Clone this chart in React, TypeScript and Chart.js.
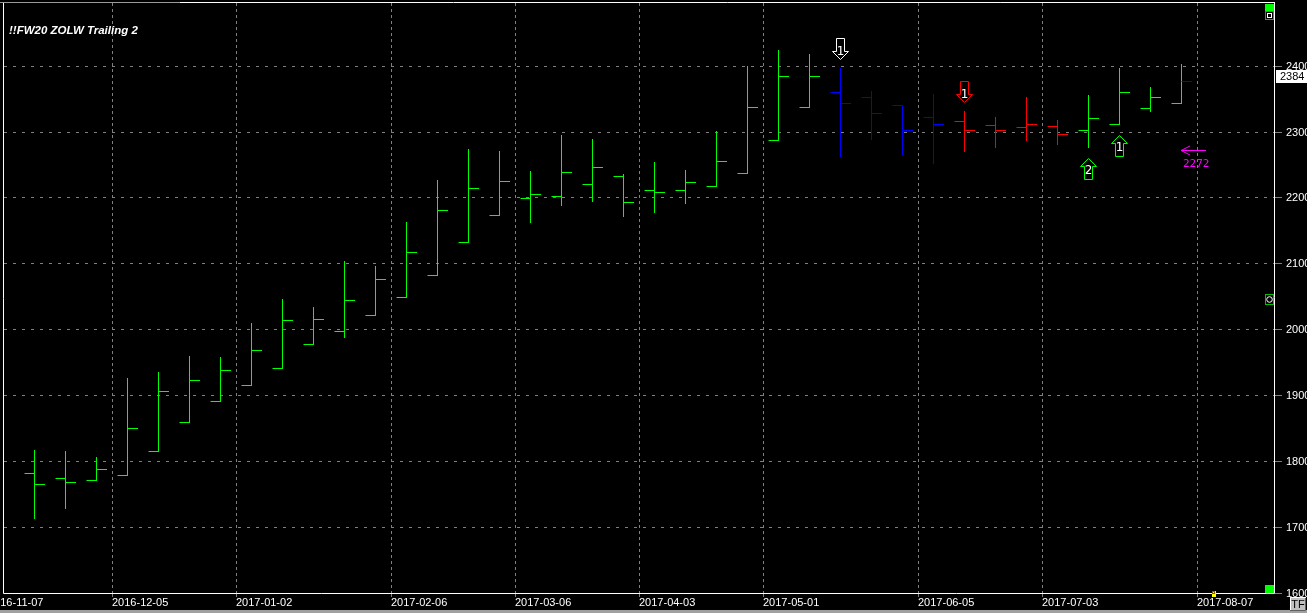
import React, { useEffect, useRef } from 'react';
import { Chart, registerables } from 'chart.js';

Chart.register(...registerables);

// ---------------- data ----------------
const TITLE = '!!FW20 ZOLW Trailing 2';

const opens = [1782, 1774, 1771, 1779, 1815, 1860, 1891, 1915, 1942, 1977, 1997, 2021, 2049, 2083, 2132, 2174, 2199, 2202, 2220, 2232, 2212, 2211, 2217, 2237, 2287, 2337, 2360, 2352, 2340, 2322, 2316, 2310, 2307, 2308, 2302, 2311, 2335, 2343];
const highs = [1817, 1815, 1806, 1926, 1935, 1960, 1958, 2010, 2046, 2034, 2104, 2096, 2163, 2227, 2274, 2271, 2240, 2295, 2289, 2236, 2254, 2242, 2301, 2400, 2424, 2418, 2396, 2362, 2340, 2357, 2331, 2322, 2352, 2317, 2355, 2396, 2367, 2402];
const lows = [1714, 1729, 1771, 1779, 1815, 1860, 1891, 1915, 1942, 1977, 1989, 2021, 2049, 2083, 2132, 2174, 2163, 2189, 2195, 2172, 2178, 2192, 2217, 2237, 2287, 2337, 2263, 2289, 2266, 2253, 2270, 2276, 2287, 2281, 2277, 2311, 2331, 2343];
const closes = [1766, 1768, 1788, 1850, 1906, 1923, 1939, 1968, 2014, 2015, 2044, 2076, 2118, 2181, 2215, 2225, 2205, 2238, 2246, 2193, 2209, 2223, 2255, 2337, 2385, 2384, 2343, 2328, 2303, 2311, 2303, 2302, 2311, 2296, 2320, 2360, 2352, 2377];
// trailing-stop state of each bar: U = long, D = short, R = reversal
const trend = ['U', 'U', 'U', 'U', 'U', 'U', 'U', 'U', 'U', 'U', 'U', 'U', 'U', 'U', 'U', 'U', 'U', 'U', 'U', 'U', 'U', 'U', 'U', 'U', 'U', 'U', 'D', 'D', 'D', 'D', 'R', 'R', 'R', 'R', 'U', 'U', 'U', 'U'];

const xTickLabels = ['2016-11-07', '2016-12-05', '2017-01-02', '2017-02-06', '2017-03-06', '2017-04-03', '2017-05-01', '2017-06-05', '2017-07-03', '2017-08-07'];
const xTickBars = [-1, 3, 7, 12, 16, 20, 24, 29, 33, 38];
const yTicks = [1600, 1700, 1800, 1900, 2000, 2100, 2200, 2300, 2400];

const lastPrice = 2384;
const trailingStop = 2272;

const signalBars = [26, 30, 34, 35];
const signalDirs = ['down', 'down', 'up', 'up'];
const signalLabels = ['1', '1', '2', '1'];

// ---------------- styles ----------------
const trendColors: Record<string, string> = { U: '#00ff00', D: '#0000ff', R: '#ff0000' };
const signalColors = ['#ffffff', '#ff0000', '#00ff00', '#00ff00'];
const GRID = '#808080';
const TEXT = '#ffffff';
const LABEL_FONT = '11px "Liberation Sans", Arial, sans-serif';

const W = 1307;
const H = 613;

function crisp(v: number) {
  return Math.round(v) + 0.5;
}

const painter = {
  id: 'ohlcPainter',
  beforeDraw(chart: any) {
    const ctx = chart.ctx;
    ctx.save();
    ctx.fillStyle = '#000000';
    ctx.fillRect(0, 0, W, H);
    ctx.restore();
  },
  afterDraw(chart: any) {
    const ctx: CanvasRenderingContext2D = chart.ctx;
    const xs = chart.scales.x;
    const ys = chart.scales.y;
    const area = chart.chartArea;
    const L = Math.round(area.left);
    const R = Math.round(area.right);
    const T = Math.round(area.top);
    const B = Math.round(area.bottom);

    ctx.save();
    ctx.lineWidth = 1;

    // horizontal grid + right ticks
    yTicks.forEach((v) => {
      const y = crisp(ys.getPixelForValue(v));
      if (v !== yTicks[0]) {
        ctx.strokeStyle = GRID;
        ctx.setLineDash([3, 6]);
        ctx.beginPath();
        ctx.moveTo(L + 1, y);
        ctx.lineTo(R, y);
        ctx.stroke();
      }
      ctx.setLineDash([]);
      ctx.strokeStyle = GRID;
      ctx.beginPath();
      ctx.moveTo(R + 1, y);
      ctx.lineTo(R + 8, y);
      ctx.stroke();
    });

    // vertical grid
    xTickBars.forEach((b) => {
      const px = xs.getPixelForValue(b - 0.5);
      if (px <= area.left || px >= area.right) return;
      const x = crisp(px);
      ctx.strokeStyle = GRID;
      ctx.setLineDash([3, 3]);
      ctx.beginPath();
      ctx.moveTo(x, T);
      ctx.lineTo(x, B);
      ctx.stroke();
      ctx.setLineDash([]);
      ctx.beginPath();
      ctx.moveTo(x, B);
      ctx.lineTo(x, B + 4);
      ctx.stroke();
    });
    ctx.setLineDash([]);

    // frame
    ctx.strokeStyle = '#9a9a9a';
    ctx.beginPath();
    ctx.moveTo(0, 2.5);
    ctx.lineTo(180, 2.5);
    ctx.stroke();
    ctx.strokeStyle = '#ffffff';
    ctx.beginPath();
    ctx.moveTo(180, 2.5);
    ctx.lineTo(R + 0.5, 2.5);
    ctx.moveTo(L + 0.5, T);
    ctx.lineTo(L + 0.5, B + 0.5);
    ctx.lineTo(R + 0.5, B + 0.5);
    ctx.lineTo(R + 0.5, 2);
    ctx.stroke();

    // OHLC bars
    const tick = 10;
    for (let i = 0; i < opens.length; i++) {
      const color = trendColors[trend[i]];
      const x = crisp(xs.getPixelForValue(i));
      const yh = Math.round(ys.getPixelForValue(highs[i]));
      const yl = Math.round(ys.getPixelForValue(lows[i]));
      const yo = crisp(ys.getPixelForValue(opens[i]));
      const yc = crisp(ys.getPixelForValue(closes[i]));
      ctx.strokeStyle = color;
      ctx.beginPath();
      ctx.moveTo(x, yh);
      ctx.lineTo(x, yl + 1);
      ctx.moveTo(x - tick, yo);
      ctx.lineTo(x, yo);
      ctx.stroke();
      ctx.strokeStyle = i === opens.length - 1 ? trendColors.D : color;
      ctx.beginPath();
      ctx.moveTo(x, yc);
      ctx.lineTo(x + tick + 0.5, yc);
      ctx.stroke();
    }

    // signal arrows
    signalBars.forEach((b, k) => {
      const dir = signalDirs[k];
      const cx = crisp(xs.getPixelForValue(b));
      const s = dir === 'down' ? -1 : 1;
      const anchor = dir === 'down' ? ys.getPixelForValue(highs[b]) - 9 : ys.getPixelForValue(lows[b]) + 11;
      const tipY = crisp(anchor);
      const sw = 4, hw = 8, hh = 8, sh = 13;
      ctx.beginPath();
      ctx.moveTo(cx, tipY);
      ctx.lineTo(cx + hw, tipY + s * hh);
      ctx.lineTo(cx + sw, tipY + s * hh);
      ctx.lineTo(cx + sw, tipY + s * (hh + sh));
      ctx.lineTo(cx - sw, tipY + s * (hh + sh));
      ctx.lineTo(cx - sw, tipY + s * hh);
      ctx.lineTo(cx - hw, tipY + s * hh);
      ctx.closePath();
      ctx.fillStyle = '#000000';
      ctx.fill();
      ctx.strokeStyle = signalColors[k];
      ctx.stroke();
      ctx.fillStyle = '#ffffff';
      ctx.font = '12px "DejaVu Sans", sans-serif';
      ctx.textAlign = 'center';
      ctx.textBaseline = 'middle';
      const ty = dir === 'down' ? tipY - 8 : tipY + 12;
      ctx.fillText(signalLabels[k], cx, ty);
    });

    // trailing stop marker
    {
      const last = opens.length - 1;
      const x0 = Math.round(xs.getPixelForValue(last));
      const y = crisp(ys.getPixelForValue(trailingStop));
      ctx.strokeStyle = '#ff00ff';
      ctx.beginPath();
      ctx.moveTo(x0, y);
      ctx.lineTo(x0 + 25, y);
      ctx.moveTo(x0, y);
      ctx.lineTo(x0 + 9, y - 4.5);
      ctx.moveTo(x0, y);
      ctx.lineTo(x0 + 9, y + 4.5);
      ctx.stroke();
      ctx.fillStyle = '#ff00ff';
      ctx.font = '11px "DejaVu Sans Mono", monospace';
      ctx.textAlign = 'left';
      ctx.textBaseline = 'middle';
      ctx.fillText(String(trailingStop), x0 + 2, y + 14);
    }

    // title
    ctx.fillStyle = TEXT;
    ctx.font = 'italic bold 11.5px "Liberation Sans", Arial, sans-serif';
    ctx.textAlign = 'left';
    ctx.textBaseline = 'middle';
    ctx.fillText(TITLE, 9, 31);

    // x labels
    ctx.font = LABEL_FONT;
    ctx.fillStyle = TEXT;
    ctx.textAlign = 'left';
    ctx.textBaseline = 'middle';
    xTickBars.forEach((b, k) => {
      const x = Math.round(xs.getPixelForValue(b - 0.5));
      ctx.fillText(xTickLabels[k], x, 603);
    });

    // y labels
    yTicks.forEach((v) => {
      const y = Math.round(ys.getPixelForValue(v));
      ctx.fillText(String(v), R + 12, y + 0.5);
    });

    // last price box
    {
      const y = Math.round(ys.getPixelForValue(lastPrice));
      ctx.fillStyle = '#ffffff';
      ctx.fillRect(R + 2, y - 6, W - R - 2, 13);
      ctx.fillStyle = '#000000';
      ctx.fillText(String(lastPrice), R + 6, y + 1);
    }

    // widgets
    ctx.fillStyle = '#00ff00';
    ctx.fillRect(R - 9, 4, 9, 7);
    ctx.fillRect(R - 9, B - 8, 9, 8);
    ctx.strokeStyle = '#00c000';
    ctx.strokeRect(R - 8.5, 11.5, 8, 8);
    ctx.strokeStyle = '#ffffff';
    ctx.strokeRect(R - 6.5, 13.5, 4, 4);
    const cy = Math.round(ys.getPixelForValue(2046));
    ctx.strokeStyle = '#00c000';
    ctx.fillStyle = '#000000';
    ctx.fillRect(R - 9, cy - 5, 9, 10);
    ctx.strokeRect(R - 8.5, cy - 4.5, 8, 10);
    ctx.strokeStyle = '#ffffff';
    ctx.beginPath();
    ctx.arc(R - 4.5, cy + 0.5, 2.8, 0, Math.PI * 2);
    ctx.stroke();

    // yellow marker
    {
      const x = Math.round(xs.getPixelForValue(38));
      ctx.fillStyle = '#ffff00';
      ctx.fillRect(x, B - 2, 4, 6);
      ctx.strokeStyle = '#806000';
      ctx.strokeRect(x + 0.5, B - 1.5, 2, 2);
    }

    // bottom strip and TF button
    ctx.fillStyle = '#a0a0a0';
    ctx.fillRect(0, 610, W, 3);
    ctx.fillStyle = '#c0c0c0';
    ctx.fillRect(1290, 597, 16, 14);
    ctx.strokeStyle = '#ffffff';
    ctx.beginPath();
    ctx.moveTo(1290.5, 610);
    ctx.lineTo(1290.5, 597.5);
    ctx.lineTo(1306, 597.5);
    ctx.stroke();
    ctx.strokeStyle = '#606060';
    ctx.beginPath();
    ctx.moveTo(1305.5, 598);
    ctx.lineTo(1305.5, 610.5);
    ctx.lineTo(1290, 610.5);
    ctx.stroke();
    ctx.fillStyle = '#000000';
    ctx.font = '11px "Liberation Sans", Arial, sans-serif';
    ctx.textAlign = 'center';
    ctx.fillText('TF', 1298, 604.5);

    ctx.restore();
  },
};

export default function App() {
  const ref = useRef<HTMLCanvasElement | null>(null);

  useEffect(() => {
    document.body.style.margin = '0';
    document.body.style.background = '#000';
    const canvas = ref.current;
    if (!canvas) return;
    const chart = new Chart(canvas, {
      type: 'scatter',
      data: {
        datasets: [
          {
            label: 'close',
            data: closes.map((c, i) => ({ x: i, y: c })),
            pointRadius: 0,
            showLine: false,
          },
        ],
      },
      options: {
        responsive: false,
        animation: false,
        devicePixelRatio: 1,
        events: [],
        layout: { padding: { left: 3, top: 3, right: 33, bottom: 20 } },
        scales: {
          x: { type: 'linear', min: -1, max: 40, display: false },
          y: { type: 'linear', min: 1600, max: 2495, display: false },
        },
        plugins: { legend: { display: false }, tooltip: { enabled: false }, title: { display: false } },
      },
      plugins: [painter],
    });
    return () => chart.destroy();
  }, []);

  return (
    <div style={{ position: 'fixed', left: 0, top: 0, width: W, height: H, background: '#000' }}>
      <canvas ref={ref} width={W} height={H} style={{ width: W, height: H, display: 'block' }} />
    </div>
  );
}
